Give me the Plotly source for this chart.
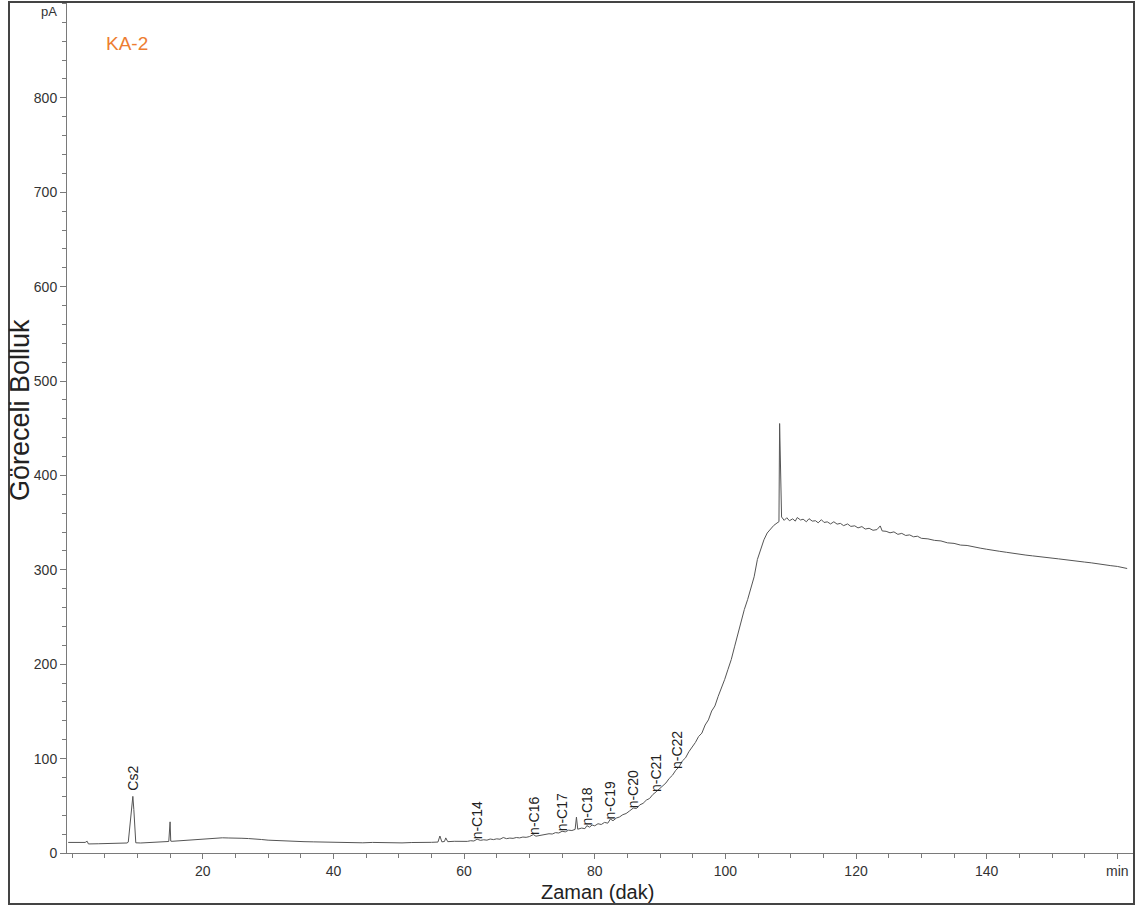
import numpy as np
import plotly.graph_objects as go

# Retention time (min) and detector signal (pA) of the KA-2 chromatogram
time_min = [
    -0.6, 1.0, 2.0, 2.3, 2.5, 4.0, 6.0, 7.5, 8.4, 8.6,
    8.8, 9.0, 9.2, 9.3, 9.45, 9.6, 9.75, 10.5, 12.0, 13.5,
    14.8, 15.0, 15.1, 15.3, 16.0, 17.0, 18.0, 19.0, 20.0, 21.0,
    22.0, 23.0, 24.0, 25.0, 26.0, 27.0, 28.0, 29.0, 30.0, 31.0,
    32.5, 34.0, 35.5, 37.0, 38.5, 40.0, 41.5, 43.0, 44.5, 46.0,
    47.5, 49.0, 50.5, 52.0, 53.5, 55.0, 56.0, 56.3, 56.6, 57.0,
    57.2, 57.5, 58.5, 59.5, 60.0, 60.5, 61.0, 61.5, 62.0, 62.5,
    63.0, 63.5, 64.0, 64.5, 65.0, 65.5, 66.0, 66.5, 67.0, 67.5,
    68.0, 68.5, 69.0, 69.5, 70.0, 70.6, 71.0, 71.5, 72.0, 72.5,
    73.0, 73.5, 74.0, 74.5, 75.0, 75.5, 76.0, 76.5, 77.0, 77.2,
    77.4, 78.0, 78.5, 78.8, 79.2, 79.6, 80.0, 80.5, 81.0, 81.5,
    82.0, 82.4, 82.8, 83.3, 83.8, 84.3, 84.8, 85.3, 85.9, 86.4,
    86.9, 87.4, 87.9, 88.4, 88.9, 89.4, 89.9, 90.4, 90.9, 91.4,
    91.9, 92.4, 92.9, 93.4, 93.9, 94.4, 94.9, 95.4, 95.9, 96.4,
    96.9, 97.4, 97.9, 98.4, 98.9, 99.4, 99.9, 100.4, 100.9, 101.4,
    101.9, 102.4, 102.9, 103.4, 103.9, 104.4, 104.9, 105.4, 105.9, 106.4,
    106.9, 107.4, 107.9, 108.2, 108.3, 108.45, 108.6, 109.0, 109.4, 109.8,
    110.3, 110.7, 111.0, 111.5, 111.9, 112.4, 112.8, 113.3, 113.8, 114.2,
    114.7, 115.1, 115.6, 116.1, 116.6, 117.1, 117.6, 118.1, 118.7, 119.2,
    119.8, 120.3, 120.9, 121.4, 122.0, 122.6, 123.2, 123.7, 124.0, 124.6,
    125.2, 125.8, 126.4, 127.0, 127.6, 128.2, 128.8, 129.4, 130.0, 131.0,
    132.0, 133.0, 134.0, 135.0, 136.0, 137.0, 138.0, 139.0, 140.0, 141.0,
    142.0, 143.0, 144.0, 145.0, 146.0, 147.0, 148.0, 149.0, 150.0, 151.0,
    152.0, 153.0, 154.0, 155.0, 156.0, 157.0, 158.0, 159.0, 160.0, 161.5,
]
signal_pa = [
    11.2, 11.0, 11.2, 12.5, 9.6, 9.8, 10.0, 10.3, 10.6, 11.5,
    25.0, 40.0, 57.0, 60.0, 46.0, 20.0, 10.8, 10.6, 11.0, 11.6,
    12.2, 33.0, 12.6, 12.4, 12.8, 13.2, 13.6, 14.4, 15.0, 15.4,
    15.8, 16.1, 15.9, 16.0, 15.6, 15.3, 15.0, 14.3, 13.6, 13.2,
    12.9, 12.4, 12.0, 11.8, 11.5, 11.3, 11.6, 11.1, 10.8, 11.2,
    10.9, 11.0, 10.7, 11.1, 10.9, 11.3, 11.6, 18.0, 11.8, 12.2,
    16.0, 12.0, 12.4, 12.1, 12.6, 12.3, 13.0, 12.7, 14.6, 13.4,
    14.0, 13.6, 14.8, 14.2, 15.0, 14.6, 16.4, 15.2, 15.8, 15.5,
    16.4, 16.0, 16.9, 16.6, 17.4, 19.5, 17.8, 18.6, 18.9, 19.6,
    20.4, 20.1, 21.6, 21.2, 23.0, 22.4, 24.2, 23.8, 25.0, 38.0,
    25.2, 26.4, 25.8, 29.0, 27.4, 29.6, 28.8, 31.0, 30.2, 32.4,
    31.6, 36.0, 34.2, 37.0, 38.2, 40.6, 41.8, 44.4, 47.6, 47.2,
    51.0, 52.6, 56.0, 57.8, 62.0, 64.8, 68.0, 71.6, 74.2, 79.0,
    82.4, 87.6, 91.0, 97.4, 100.8, 107.2, 111.6, 117.0, 123.4, 127.0,
    135.6, 141.0, 150.4, 155.8, 166.0, 174.2, 184.0, 194.6, 205.0, 218.4,
    232.0, 244.6, 258.0, 268.4, 281.0, 292.6, 311.0, 322.4, 331.8, 339.0,
    343.6, 347.0, 349.6, 351.0, 455.0, 400.0, 356.0, 352.4, 355.2, 352.0,
    354.0, 351.6, 355.4, 352.8, 353.6, 350.9, 354.2, 351.6, 352.0, 349.8,
    353.1, 350.2, 350.8, 348.6, 350.9, 348.4, 349.2, 346.8, 348.6, 346.0,
    346.6, 344.4, 345.8, 343.2, 344.0, 341.9, 342.6, 346.5, 341.2, 340.8,
    339.2, 340.2, 337.6, 338.6, 336.4, 337.0, 335.0, 335.6, 333.4, 332.8,
    331.2, 330.6, 328.6, 328.0, 326.2, 325.8, 324.0, 323.0, 321.8, 320.4,
    319.6, 318.6, 317.4, 316.6, 315.6, 314.8, 313.8, 313.2, 312.4, 311.6,
    310.6, 310.0, 309.0, 308.2, 307.4, 306.2, 305.2, 304.4, 303.6, 301.4,
]
assert len(time_min) == len(signal_pa)

# Identified peaks (retention time, min)
peak_names = ["Cs2", "n-C14", "n-C16", "n-C17", "n-C18", "n-C19", "n-C20", "n-C21", "n-C22"]
peak_times = [9.3, 62.0, 70.6, 75.0, 78.8, 82.4, 85.9, 89.4, 92.6]

# Axis ticks
x_major = [20, 40, 60, 80, 100, 120, 140, 160]
x_labels = ["20", "40", "60", "80", "100", "120", "140", "min"]
y_major = [0, 100, 200, 300, 400, 500, 600, 700, 800]

FONT = "Liberation Sans, Arial, sans-serif"
AXIS_GREY = "#7a7a7a"

fig = go.Figure()
fig.add_trace(go.Scatter(
    x=time_min, y=signal_pa, mode="lines",
    line=dict(color="#555555", width=1),
    hoverinfo="skip", showlegend=False,
))

# Peak labels sit on the trace at each retention time
base = np.interp(peak_times, time_min, signal_pa)
for name, t, b in zip(peak_names, peak_times, base):
    fig.add_annotation(
        x=t, y=b, xref="x", yref="y", text=name, textangle=-90,
        showarrow=False, xanchor="center", yanchor="bottom",
        yshift=4 if name == "Cs2" else -2,
        font=dict(family=FONT, size=14, color="#222222"),
    )

# Sample name
fig.add_annotation(
    x=(127 - 67) / 1068, y=(853 - 43) / 850, xref="paper", yref="paper",
    text="KA-2", showarrow=False, xanchor="center", yanchor="middle",
    font=dict(family=FONT, size=19, color="#ED7D31"),
)
# Signal unit at the top of the y axis
fig.add_annotation(
    x=0, y=891, xref="paper", yref="y", text="pA", showarrow=False,
    xanchor="right", yanchor="middle", xshift=-8,
    font=dict(family=FONT, size=13, color="#333333"),
)
# Axis titles
fig.add_annotation(
    x=(597 - 67) / 1068, y=(853 - 892) / 850, xref="paper", yref="paper",
    text="Zaman (dak)", showarrow=False, xanchor="center", yanchor="middle",
    font=dict(family=FONT, size=20, color="#222222"),
)
fig.add_annotation(
    x=(20 - 67) / 1068, y=(853 - 410) / 850, xref="paper", yref="paper",
    text="Göreceli Bolluk", textangle=-90, showarrow=False,
    xanchor="center", yanchor="middle",
    font=dict(family=FONT, size=27, color="#222222"),
)

# Outer frame
fig.add_shape(
    type="rect", xref="paper", yref="paper",
    x0=(9 - 67) / 1068, x1=(1134 - 67) / 1068,
    y0=(853 - 904) / 850, y1=(853 - 2) / 850,
    line=dict(color="#444444", width=2), fillcolor="rgba(0,0,0,0)",
)

fig.update_xaxes(
    range=[-0.78, 162.7], showgrid=False, zeroline=False,
    showline=True, linecolor=AXIS_GREY, linewidth=1,
    tickmode="array", tickvals=x_major, ticktext=x_labels,
    ticks="outside", ticklen=5, tickcolor=AXIS_GREY, tickwidth=1,
    minor=dict(dtick=5, tick0=0, ticks="outside", ticklen=4, tickcolor=AXIS_GREY),
    tickfont=dict(family=FONT, size=14, color="#333333"),
)
fig.update_yaxes(
    range=[0, 900.5], showgrid=False, zeroline=False,
    showline=True, linecolor=AXIS_GREY, linewidth=1,
    tickmode="array", tickvals=y_major,
    ticks="outside", ticklen=6, tickcolor=AXIS_GREY, tickwidth=1,
    minor=dict(dtick=20, tick0=0, ticks="outside", ticklen=4, tickcolor=AXIS_GREY),
    tickfont=dict(family=FONT, size=14, color="#333333"),
)

fig.update_layout(
    width=1136, height=911,
    margin=dict(l=67, r=1, t=3, b=58, pad=0),
    paper_bgcolor="white", plot_bgcolor="white",
)

fig.write_html("out.html")
